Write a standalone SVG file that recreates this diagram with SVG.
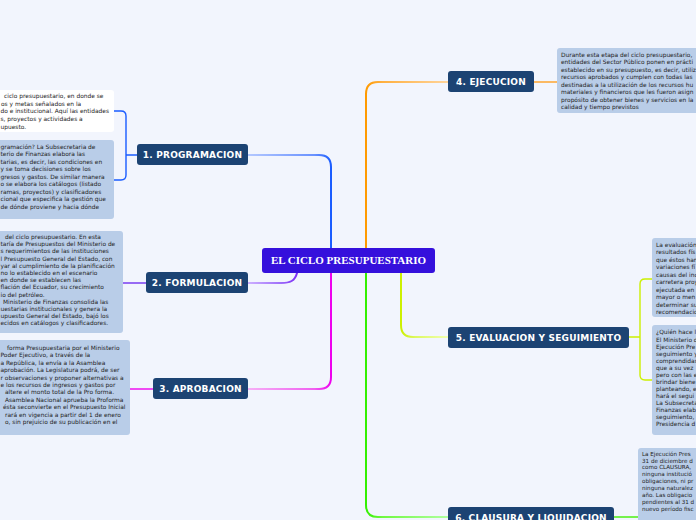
<svg xmlns="http://www.w3.org/2000/svg" width="696" height="520" viewBox="0 0 696 520">
<defs>
<style>
.bg{fill:#f2f5fd}
.topic{fill:#1c4373}
.tt{font-family:"DejaVu Sans",Verdana,sans-serif;font-weight:bold;font-size:9px;fill:#fff;text-anchor:middle;letter-spacing:0.2px}
.ct{font-family:"Liberation Serif","Times New Roman",serif;font-weight:bold;font-size:11px;fill:#fff;text-anchor:middle}
.box{fill:#b9cde8}
.wbox{fill:#ffffff}
.bt{font-family:"DejaVu Sans",Verdana,sans-serif;font-size:5.9px;fill:#222}
.bt6{font-family:"DejaVu Sans",Verdana,sans-serif;font-size:5.6px;fill:#222}
.br{fill:none;stroke-width:2;stroke-linecap:round}
.ln{fill:none;stroke-width:1.4}
</style>
<linearGradient id="gBlue" gradientUnits="userSpaceOnUse" x1="331" y1="0" x2="248" y2="0"><stop offset="0" stop-color="#1a5cff"/><stop offset="0.2" stop-color="#6a92ff"/><stop offset="1" stop-color="#b4c8ff"/></linearGradient>
<linearGradient id="gPurple" gradientUnits="userSpaceOnUse" x1="297" y1="0" x2="248" y2="0"><stop offset="0" stop-color="#7b2cf5"/><stop offset="0.35" stop-color="#a070fa"/><stop offset="1" stop-color="#cdb0ff"/></linearGradient>
<linearGradient id="gMag" gradientUnits="userSpaceOnUse" x1="331" y1="0" x2="248" y2="0"><stop offset="0" stop-color="#ee00ee"/><stop offset="0.2" stop-color="#f060f0"/><stop offset="1" stop-color="#f6b0f6"/></linearGradient>
<linearGradient id="gOrange" gradientUnits="userSpaceOnUse" x1="366" y1="0" x2="448" y2="0"><stop offset="0" stop-color="#ff9a00"/><stop offset="0.2" stop-color="#ffb040"/><stop offset="1" stop-color="#ffd49a"/></linearGradient>
<linearGradient id="gGreen" gradientUnits="userSpaceOnUse" x1="366" y1="0" x2="448" y2="0"><stop offset="0" stop-color="#33f000"/><stop offset="0.2" stop-color="#70f840"/><stop offset="1" stop-color="#b0ffa0"/></linearGradient>
<linearGradient id="gYel" gradientUnits="userSpaceOnUse" x1="401" y1="0" x2="448" y2="0"><stop offset="0" stop-color="#ccf000"/><stop offset="0.3" stop-color="#ddf860"/><stop offset="1" stop-color="#f0ffb0"/></linearGradient>
</defs>
<rect class="bg" x="0" y="0" width="696" height="520"/>

<g id="connectors">
<path class="br" stroke="url(#gBlue)" d="M331,248 V167 Q331,155 319,155 H248"/>
<path class="br" stroke="url(#gPurple)" d="M297,273 C295,281 290,283 281,283 H248"/>
<path class="br" stroke="url(#gMag)" d="M331,273 V377 Q331,389 319,389 H248"/>
<path class="br" stroke="url(#gOrange)" d="M366,248 V94 Q366,82 378,82 H448"/>
<path class="br" stroke="url(#gGreen)" d="M366,273 V505 Q366,517 378,517 H448"/>
<path class="br" stroke="url(#gYel)" d="M401,273 V325 Q401,337 413,337 H448"/>
<path class="ln" stroke="#1a5cff" d="M114,111 H121 Q126,111 126,116 V175 Q126,180 121,180 H114 M126,155 H137"/>
<path class="ln" stroke="#7030f0" d="M146,283 H123"/>
<path class="ln" stroke="#ee00ee" d="M153,389 H130"/>
<path class="ln" stroke="#ffa020" d="M534,82 H557"/>
<path class="ln" stroke="#ccf000" d="M629,337 H640 M652,279 H645 Q640,279 640,284 V375 Q640,380 645,380 H652"/>
<path class="ln" stroke="#40f000" d="M614,517 H638"/>
</g>

<g id="center">
<rect x="262" y="248" width="173" height="25" rx="3" fill="#3510dc"/>
<text class="ct" x="348.5" y="264">EL CICLO PRESUPUESTARIO</text>
</g>

<g id="n1">
<rect class="topic" x="137" y="144" width="111" height="21" rx="3"/>
<text class="tt" x="192.5" y="158">1. PROGRAMACION</text>
</g>
<g id="n2">
<rect class="topic" x="146" y="272" width="102" height="21" rx="3"/>
<text class="tt" x="197" y="286">2. FORMULACION</text>
</g>
<g id="n3">
<rect class="topic" x="153" y="378" width="95" height="21" rx="3"/>
<text class="tt" x="200.5" y="392">3. APROBACION</text>
</g>
<g id="n4">
<rect class="topic" x="448" y="71" width="86" height="21" rx="3"/>
<text class="tt" x="491" y="85">4. EJECUCION</text>
</g>
<g id="n5">
<rect class="topic" x="448" y="327" width="181" height="21" rx="3"/>
<text class="tt" x="538.5" y="341">5. EVALUACION Y SEGUIMIENTO</text>
</g>
<g id="n6">
<rect class="topic" x="448" y="507" width="166" height="21" rx="3"/>
<text class="tt" x="531" y="521">6. CLAUSURA Y LIQUIDACION</text>
</g>

<g id="t1a">
<rect class="wbox" x="-5" y="90" width="119" height="42" rx="3"/>
<text class="bt" x="4" y="98">ciclo presupuestario, en donde se</text>
<text class="bt" x="1" y="105.7">os y metas señalados en la</text>
<text class="bt" x="0.5" y="113.4">do e institucional. Aquí las entidades</text>
<text class="bt" x="0.5" y="121.1">s, proyectos y actividades a</text>
<text class="bt" x="0.5" y="128.8">upuesto.</text>
</g>

<g id="t1b">
<rect class="box" x="-5" y="140" width="119" height="79" rx="3"/>
<text class="bt" x="0.5" y="148.5">gramación? La Subsecretaria de</text>
<text class="bt" x="0.5" y="156">terio de Finanzas elabora las</text>
<text class="bt" x="0.5" y="163.5">tarias, es decir, las condiciones en</text>
<text class="bt" x="0.5" y="171">y se toma decisiones sobre los</text>
<text class="bt" x="0.5" y="178.5">gresos y gastos. De similar manera</text>
<text class="bt" x="0.5" y="186">o se elabora los catálogos  (listado</text>
<text class="bt" x="0.5" y="193.5">ramas, proyectos) y clasificadores</text>
<text class="bt" x="0.5" y="201">cional que especifica la gestión que</text>
<text class="bt" x="0.5" y="208.5">de dónde proviene y hacia dónde</text>
</g>

<g id="t2">
<rect class="box" x="-5" y="231" width="128" height="102" rx="3"/>
<text class="bt" x="5" y="239">del ciclo presupuestario. En esta</text>
<text class="bt" x="0.5" y="246.2">taría de Presupuestos del Ministerio de</text>
<text class="bt" x="0.5" y="253.4">s requerimientos de las instituciones</text>
<text class="bt" x="0.5" y="260.6">l Presupuesto General del Estado, con</text>
<text class="bt" x="0.5" y="267.8">yar al cumplimiento de la planificación</text>
<text class="bt" x="0.5" y="275">no lo establecido en el escenario</text>
<text class="bt" x="0.5" y="282.2">en donde se establecen las</text>
<text class="bt" x="0.5" y="289.4">flación del Ecuador, su crecimiento</text>
<text class="bt" x="0.5" y="296.6">io del petróleo.</text>
<text class="bt" x="3" y="303.8">Ministerio de Finanzas consolida las</text>
<text class="bt" x="0.5" y="311">uestarias institucionales y genera la</text>
<text class="bt" x="0.5" y="318.2">upuesto General del Estado, bajó los</text>
<text class="bt" x="0.5" y="325.4">ecidos en catálogos y clasificadores.</text>
</g>

<g id="t3">
<rect class="box" x="-5" y="340" width="135" height="95" rx="3"/>
<text class="bt" x="7" y="350">forma Presupuestaria por el Ministerio</text>
<text class="bt" x="0.5" y="357.4">Poder Ejecutivo, a través de la</text>
<text class="bt" x="0.5" y="364.8">a República, la envía a la Asamblea</text>
<text class="bt" x="0.5" y="372.2">aprobación. La Legislatura podrá, de ser</text>
<text class="bt" x="0.5" y="379.6">r observaciones y proponer alternativas a</text>
<text class="bt" x="0.5" y="387">e los recursos de ingresos y gastos por</text>
<text class="bt" x="5" y="394.4">altere el monto total de la Pro forma.</text>
<text class="bt" x="5" y="401.8">Asamblea Nacional aprueba la Proforma</text>
<text class="bt" x="3" y="409.2">ésta seconvierte en el Presupuesto Inicial</text>
<text class="bt" x="5" y="416.6">rará en vigencia a partir del 1 de enero</text>
<text class="bt" x="5" y="424">o, sin prejuicio de su publicación en el</text>
</g>

<g id="t4">
<rect class="box" x="557" y="48" width="150" height="65" rx="3"/>
<text class="bt" x="561" y="56.8">Durante esta etapa del ciclo presupuestario,</text>
<text class="bt" x="561" y="64.3">entidades del Sector Público ponen en prácti</text>
<text class="bt" x="561" y="71.7">establecido en su presupuesto, es decir, utiliz</text>
<text class="bt" x="561" y="79.2">recursos aprobados y cumplen con todas las</text>
<text class="bt" x="561" y="86.7">destinadas a la utilización de los recursos hu</text>
<text class="bt" x="561" y="94.2">materiales y financieros que les fueron asign</text>
<text class="bt" x="561" y="101.6">propósito de obtener bienes y servicios en la</text>
<text class="bt" x="561" y="109.1">calidad y tiempo previstos</text>
</g>

<g id="t5a">
<rect class="box" x="652" y="238" width="60" height="79" rx="3"/>
<text class="bt" x="656" y="246.8">La evaluación</text>
<text class="bt" x="656" y="254.3">resultados fís</text>
<text class="bt" x="656" y="261.8">que éstos han</text>
<text class="bt" x="656" y="269.2">variaciones fí</text>
<text class="bt" x="656" y="276.7">causas del inc</text>
<text class="bt" x="656" y="284.2">carretera proy</text>
<text class="bt" x="656" y="291.7">ejecutada en</text>
<text class="bt" x="656" y="299.2">mayor o men</text>
<text class="bt" x="656" y="306.6">determinar su</text>
<text class="bt" x="656" y="314.1">recomendacio</text>
</g>

<g id="t5b">
<rect class="box" x="652" y="325" width="60" height="110" rx="3"/>
<text class="bt" x="656" y="334.4">¿Quién hace l</text>
<text class="bt" x="656" y="341.5">El Ministerio d</text>
<text class="bt" x="656" y="348.5">Ejecución Pre</text>
<text class="bt" x="656" y="355.6">seguimiento y</text>
<text class="bt" x="656" y="362.6">comprendidas</text>
<text class="bt" x="656" y="369.7">que a su vez</text>
<text class="bt" x="656" y="376.7">pero con las e</text>
<text class="bt" x="656" y="383.8">brindar biene</text>
<text class="bt" x="656" y="390.8">planteando, e</text>
<text class="bt" x="656" y="397.9">hará el segui</text>
<text class="bt" x="656" y="404.9">La Subsecreta</text>
<text class="bt" x="656" y="412">Finanzas elab</text>
<text class="bt" x="656" y="419">seguimiento,</text>
<text class="bt" x="656" y="426.1">Presidencia d</text>
</g>

<g id="t6">
<rect class="box" x="638" y="448" width="70" height="80" rx="3"/>
<text class="bt6" x="642" y="455.7">La Ejecución Pres</text>
<text class="bt6" x="642" y="462.6">31 de diciembre d</text>
<text class="bt6" x="642" y="469.4">como CLAUSURA,</text>
<text class="bt6" x="642" y="476.3">ninguna institució</text>
<text class="bt6" x="642" y="483.2">obligaciones, ni pr</text>
<text class="bt6" x="642" y="490">ninguna naturalez</text>
<text class="bt6" x="642" y="496.9">año. Las obligacio</text>
<text class="bt6" x="642" y="503.8">pendientes al 31 d</text>
<text class="bt6" x="642" y="510.7">nuevo período fisc</text>
</g>
</svg>
